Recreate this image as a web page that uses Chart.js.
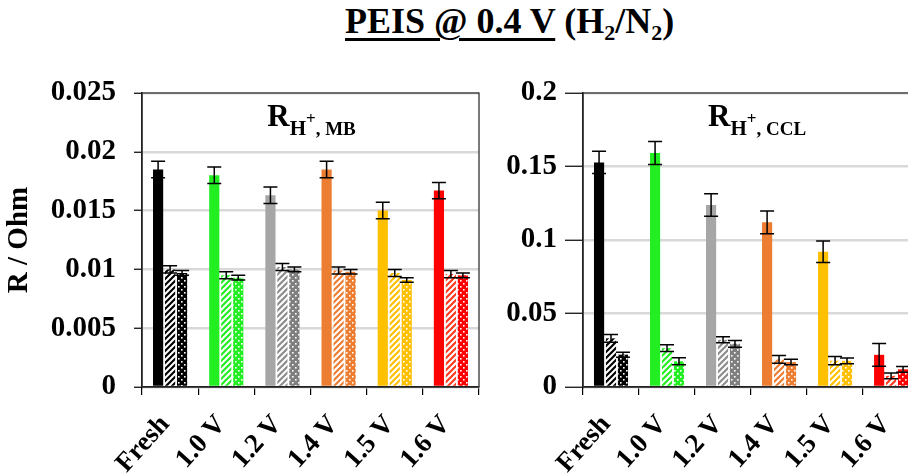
<!DOCTYPE html>
<html>
<head>
<meta charset="utf-8">
<script src="https://cdn.jsdelivr.net/npm/chart.js@4.4.0/dist/chart.umd.min.js"></script>
<style>
html, body { margin: 0; padding: 0; background: #fff; }
body { width: 908px; height: 476px; overflow: hidden; position: relative; }
#title { position: absolute; left: 345px; top: 3px; font: bold 36px 'Liberation Serif', 'Times New Roman', serif; white-space: nowrap; color: #000; line-height: 1; }
#title u { text-decoration-thickness: 3px; text-underline-offset: 5px; }
#title .s { font-size: 22px; position: relative; top: 7px; }
#left { position: absolute; left: 0; top: 0; width: 490px; height: 476px; }
#right { position: absolute; left: 490px; top: 0; width: 440px; height: 476px; }
</style>
</head>
<body>
<div id="title"><u>PEIS @ 0.4 V</u> (H<span class="s">2</span>/N<span class="s">2</span>)</div>
<div id="left"><canvas id="chartMB"></canvas></div>
<div id="right"><canvas id="chartCCL"></canvas></div>
<script>
const categories = ['Fresh', '1.0 V', '1.2 V', '1.4 V', '1.5 V', '1.6 V'];

// R H+, MB (Ohm)
const mbSolid    = [0.0185, 0.0180, 0.0163, 0.0185, 0.0150, 0.0167];
const mbSolidErr = [0.0007, 0.0007, 0.0007, 0.0007, 0.0007, 0.0007];
const mbHatch    = [0.0100, 0.0095, 0.0102, 0.0099, 0.0097, 0.0096];
const mbHatchErr = [0.0003, 0.0003, 0.0003, 0.0003, 0.0003, 0.0003];
const mbDots     = [0.0097, 0.0093, 0.0100, 0.0098, 0.0091, 0.0095];
const mbDotsErr  = [0.0002, 0.0002, 0.0002, 0.0002, 0.0002, 0.0002];
const mbTicks = ['0', '0.005', '0.01', '0.015', '0.02', '0.025'];

// R H+, CCL (Ohm)
const cclSolid    = [0.1528, 0.1592, 0.1238, 0.1120, 0.0920, 0.0219];
const cclSolidErr = [0.0075, 0.0078, 0.0076, 0.0078, 0.0073, 0.0077];
const cclHatch    = [0.0331, 0.0264, 0.0321, 0.0188, 0.0179, 0.0076];
const cclHatchErr = [0.0026, 0.0023, 0.0020, 0.0026, 0.0028, 0.0020];
const cclDots     = [0.0220, 0.0175, 0.0294, 0.0170, 0.0178, 0.0120];
const cclDotsErr  = [0.0017, 0.0024, 0.0023, 0.0019, 0.0020, 0.0019];
const cclTicks = ['0', '0.05', '0.1', '0.15', '0.2'];

const solidColors = ['#000000', '#22EE22', '#A6A6A6', '#ED7D31', '#FFC000', '#FF0000'];
const hatchColors = ['#000000', '#22EE22', '#8C8C8C', '#ED7D31', '#FFC000', '#FF3B1F'];
const dotColors   = ['#000000', '#22EE22', '#7F7F7F', '#ED7D31', '#FFC000', '#FF0000'];

const serif = "'Liberation Serif', 'Times New Roman', serif";

// white background with diagonal stripes
function hatch(color) {
    const c = document.createElement('canvas');
    c.width = c.height = 6;
    const g = c.getContext('2d');
    g.fillStyle = '#fff';
    g.fillRect(0, 0, 6, 6);
    g.strokeStyle = color;
    g.lineWidth = 2.2;
    g.beginPath();
    g.moveTo(-1, 7); g.lineTo(7, -1);
    g.moveTo(-1, 1); g.lineTo(1, -1);
    g.moveTo(5, 7); g.lineTo(7, 5);
    g.stroke();
    return g.createPattern(c, 'repeat');
}

// coloured background with small white dots
function dots(color) {
    const c = document.createElement('canvas');
    c.width = c.height = 6;
    const g = c.getContext('2d');
    g.fillStyle = color;
    g.fillRect(0, 0, 6, 6);
    g.fillStyle = '#fff';
    g.fillRect(1, 1, 1.6, 1.6);
    g.fillRect(4, 4, 1.6, 1.6);
    return g.createPattern(c, 'repeat');
}

const errorBars = {
    id: 'errorBars',
    afterDatasetsDraw(chart) {
        const ctx = chart.ctx, y = chart.scales.y;
        ctx.save();
        ctx.strokeStyle = '#000';
        ctx.lineWidth = 1.5;
        chart.data.datasets.forEach((ds, i) => {
            chart.getDatasetMeta(i).data.forEach((bar, j) => {
                const v = ds.data[j], e = ds.errors[j];
                const top = y.getPixelForValue(v + e), bot = y.getPixelForValue(v - e);
                const x = bar.x;
                ctx.beginPath();
                ctx.moveTo(x, top); ctx.lineTo(x, bot);
                ctx.moveTo(x - 7, top); ctx.lineTo(x + 7, top);
                ctx.moveTo(x - 7, bot); ctx.lineTo(x + 7, bot);
                ctx.stroke();
            });
        });
        ctx.restore();
    }
};

const plotBox = {
    id: 'plotBox',
    afterDraw(chart) {
        const a = chart.chartArea, ctx = chart.ctx;
        ctx.save();
        ctx.strokeStyle = '#333';
        ctx.lineWidth = 1.3;
        ctx.strokeRect(a.left, a.top, a.right - a.left, a.bottom - a.top);
        ctx.restore();
    }
};

const panelLabel = {
    id: 'panelLabel',
    afterDraw(chart, args, opts) {
        const ctx = chart.ctx, a = chart.chartArea;
        const parts = [
            { t: 'R', f: 'bold 31px ' + serif, dy: 0 },
            { t: 'H', f: 'bold 21px ' + serif, dy: 9 },
            { t: '+', f: 'bold 17px ' + serif, dy: -2 },
            { t: ', ' + opts.sub, f: 'bold 19px ' + serif, dy: 9 }
        ];
        ctx.save();
        let total = 0;
        parts.forEach(p => { ctx.font = p.f; p.w = ctx.measureText(p.t).width; total += p.w; });
        let x = (a.left + a.right) / 2 - total / 2 + (opts.dx || 0);
        ctx.fillStyle = '#000';
        ctx.textBaseline = 'alphabetic';
        parts.forEach(p => {
            ctx.font = p.f;
            ctx.fillText(p.t, x, 126 + p.dy);
            x += p.w;
        });
        ctx.restore();
    }
};

function makeChart(id, s) {
    const ctx = document.getElementById(id).getContext('2d');
    return new Chart(ctx, {
        type: 'bar',
        data: {
            labels: categories,
            datasets: [
                { data: s.solid, errors: s.solidErr, backgroundColor: solidColors },
                { data: s.hatch, errors: s.hatchErr, backgroundColor: hatchColors.map(hatch) },
                { data: s.dots, errors: s.dotsErr, backgroundColor: dotColors.map(dots) }
            ]
        },
        options: {
            responsive: true,
            maintainAspectRatio: false,
            animation: false,
            datasets: { bar: { categoryPercentage: 0.64, barPercentage: 0.85 } },
            layout: { padding: { top: 93, right: s.padRight, bottom: 0, left: 0 } },
            scales: {
                x: {
                    afterFit: (scale) => { scale.height = 89; },
                    grid: { offset: true, drawOnChartArea: false, tickLength: 8, color: '#000', lineWidth: 1.2 },
                    border: { color: '#000', width: 1.5 },
                    ticks: {
                        autoSkip: false, minRotation: 48, maxRotation: 48, padding: 14, labelOffset: -5,
                        color: '#000', font: { family: serif, size: 27, weight: 'bold' }
                    }
                },
                y: {
                    min: 0, max: s.max,
                    afterFit: (scale) => { scale.width = s.yWidth; },
                    grid: { color: '#D9D9D9', lineWidth: 2.5, tickColor: '#000', tickWidth: 1.2, tickLength: s.tickLen },
                    border: { color: '#000', width: 1.5 },
                    ticks: {
                        stepSize: s.step, padding: s.tickPad, color: '#000',
                        font: { family: serif, size: 29, weight: 'bold' },
                        callback: (v, i) => s.tickLabels[i]
                    },
                    title: {
                        display: !!s.yTitle, text: s.yTitle, color: '#000', padding: { top: 2, bottom: 0 },
                        font: { family: serif, size: 29, weight: 'bold' }
                    }
                }
            },
            plugins: {
                legend: { display: false },
                tooltip: { enabled: false },
                panelLabel: { sub: s.sub, dx: s.labelDx }
            }
        },
        plugins: [errorBars, plotBox, panelLabel]
    });
}

makeChart('chartMB', {
    solid: mbSolid, solidErr: mbSolidErr, hatch: mbHatch, hatchErr: mbHatchErr, dots: mbDots, dotsErr: mbDotsErr,
    max: 0.025, step: 0.005, tickLabels: mbTicks, yWidth: 142, tickLen: 8, tickPad: 18, padRight: 11,
    yTitle: 'R / Ohm', sub: 'MB', labelDx: 1
});

makeChart('chartCCL', {
    solid: cclSolid, solidErr: cclSolidErr, hatch: cclHatch, hatchErr: cclHatchErr, dots: cclDots, dotsErr: cclDotsErr,
    max: 0.2, step: 0.05, tickLabels: cclTicks, yWidth: 93, tickLen: 18, tickPad: 8, padRight: 10,
    yTitle: '', sub: 'CCL', labelDx: 6
});
</script>
</body>
</html>
